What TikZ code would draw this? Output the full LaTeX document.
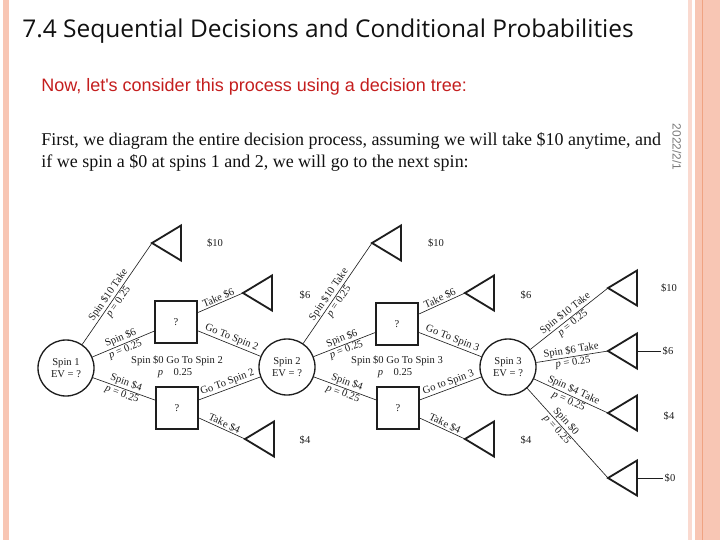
\documentclass[tikz,border=0pt]{standalone}
\usepackage{fontspec}
\setmainfont{Liberation Serif}
\newfontfamily\TitleFont{Open Sans}
\newfontfamily\LeadFont{Liberation Sans}
\usetikzlibrary{positioning,calc}
\definecolor{SlideInk}{HTML}{111111}
\definecolor{SlideRed}{HTML}{C41E1E}
\definecolor{SlideStrip}{HTML}{F8C6B4}
\definecolor{SlideStripPale}{HTML}{FADAD0}
\definecolor{SlideStripDeep}{HTML}{F0A382}
\definecolor{SlideDate}{HTML}{7A7A7A}
\definecolor{TreeInk}{HTML}{1E1E1E}
\tikzset{
  slide title/.style={font=\TitleFont\fontsize{17.4}{20}\selectfont, text=SlideInk, inner sep=0pt},
  slide lead/.style={font=\LeadFont\fontsize{12.8}{15}\selectfont, text=SlideRed, inner sep=0pt},
  slide body/.style={font=\fontsize{12.8}{15.6}\selectfont, text=SlideInk, inner sep=0pt},
  slide date/.style={font=\LeadFont\fontsize{8.5}{9}\selectfont, text=SlideDate, inner sep=0pt},
  tree chance/.style={circle, draw=TreeInk, line width=.95pt, minimum size=1.4cm, inner sep=0pt,
    align=center, font=\fontsize{7.5}{8.5}\selectfont, text=TreeInk},
  tree decision/.style={rectangle, draw=TreeInk, line width=1.6pt, minimum size=1.05cm, inner sep=0pt,
    font=\fontsize{7.5}{8.5}\selectfont, text=TreeInk},
  tree payoff/.style={draw=TreeInk, line width=1.3pt, line join=miter},
  tree branch/.style={draw=TreeInk, line width=.45pt},
  tree label/.style={font=\fontsize{7.5}{8.5}\selectfont, text=TreeInk, inner sep=1pt},
  tree edge label/.style={tree label, sloped, inner sep=.8pt},
}
\newcommand{\PayoffTri}[2]{%
  \coordinate (#1) at (#2);
  \draw[tree payoff] (#1) -- ++(29,-17.5) -- ++(0,35) -- cycle;
  \path (#1) ++(29,0) coordinate (#1 base);%
}

\begin{document}
\begin{tikzpicture}[x=0.025cm,y=-0.025cm]
  \useasboundingbox (0,0) rectangle (720,540);

  % slide frame
  \fill[SlideStrip] (3,0) rectangle (9,540);
  \fill[SlideStripPale] (688,0) rectangle (692,540);
  \fill[SlideStrip] (695,0) rectangle (720,540);
  \fill[SlideStripDeep] (701.5,0) rectangle (703,540);

  % heading and text
  \node[slide title, anchor=base west] (title) at (22,37)
    {7.4 Sequential Decisions and Conditional Probabilities};
  \node[slide lead, anchor=base west] (lead) at (41,91)
    {Now, let's consider this process using a decision tree:};
  \node[slide body, anchor=base west] (body1) at (41,145)
    {First, we diagram the entire decision process, assuming we will take \$10 anytime, and};
  \node[slide body, anchor=base west] (body2) at (41,167)
    {if we spin a \$0 at spins 1 and 2, we will go to the next spin:};
  \node[slide date, rotate=-90] (date) at (677,147) {2022/2/1};

  % chance nodes
  \node[tree chance] (s1) at (66,368) {Spin 1\\EV = ?};
  \node[tree chance] (s2) at (287,367) {Spin 2\\EV = ?};
  \node[tree chance] (s3) at (508,367) {Spin 3\\EV = ?};

  % decision nodes
  \node[tree decision] (d1a) at (176,322) {?};
  \node[tree decision] (d1b) at (177,408) {?};
  \node[tree decision] (d2a) at (397,324) {?};
  \node[tree decision] (d2b) at (398,408) {?};

  % payoffs
  \PayoffTri{t1}{152,243}
  \PayoffTri{t2}{243,293}
  \PayoffTri{t3}{245,439}
  \PayoffTri{t4}{372,243}
  \PayoffTri{t5}{465,293}
  \PayoffTri{t6}{465,439}
  \PayoffTri{t7}{608,288}
  \PayoffTri{t8}{608,351}
  \PayoffTri{t9}{608,413}
  \PayoffTri{t10}{608,478}
  \node[tree label] (v1) at (215,243) {\$10};
  \node[tree label] (v2) at (305,295) {\$6};
  \node[tree label] (v3) at (305,440) {\$4};
  \node[tree label] (v4) at (436,243) {\$10};
  \node[tree label] (v5) at (526,295) {\$6};
  \node[tree label] (v6) at (526,440) {\$4};
  \node[tree label] (v7) at (669,288) {\$10};
  \node[tree label] (v8) at (668,351) {\$6};
  \node[tree label] (v9) at (669,416) {\$4};
  \node[tree label] (v10) at (670,478) {\$0};
  \draw[tree branch] (t8 base) -- (v8.west);
  \draw[tree branch] (t10 base) -- (v10.west);

  % spin 1
  \draw[tree branch] (s1) -- node[tree edge label, above, pos=.45] {Spin \$10 Take}
    node[tree edge label, below, pos=.45] {\textit{p} = 0.25} (t1);
  \draw[tree branch] (s1) -- node[tree edge label, above] {Spin \$6}
    node[tree edge label, below] {\textit{p} = 0.25} (d1a);
  \draw[tree branch] (s1) -- node[tree edge label, above] {Spin \$4}
    node[tree edge label, below] {\textit{p} = 0.25} (d1b);
  \node[tree label] (z1) at (177,361) {Spin \$0 Go To Spin 2};
  \node[tree label] (z1p) at (175,373) {\textit{p}\quad 0.25};
  \draw[tree branch] (d1a) -- node[tree edge label, above] {Take \$6} (t2);
  \draw[tree branch] (d1a) -- node[tree edge label, above] {Go To Spin 2} (s2);
  \draw[tree branch] (d1b) -- node[tree edge label, above] {Go To Spin 2} (s2);
  \draw[tree branch] (d1b) -- node[tree edge label, above] {Take \$4} (t3);

  % spin 2
  \draw[tree branch] (s2) -- node[tree edge label, above, pos=.45] {Spin \$10 Take}
    node[tree edge label, below, pos=.45] {\textit{p} = 0.25} (t4);
  \draw[tree branch] (s2) -- node[tree edge label, above] {Spin \$6}
    node[tree edge label, below] {\textit{p} = 0.25} (d2a);
  \draw[tree branch] (s2) -- node[tree edge label, above] {Spin \$4}
    node[tree edge label, below] {\textit{p} = 0.25} (d2b);
  \node[tree label] (z2) at (397,361) {Spin \$0 Go To Spin 3};
  \node[tree label] (z2p) at (395,373) {\textit{p}\quad 0.25};
  \draw[tree branch] (d2a) -- node[tree edge label, above] {Take \$6} (t5);
  \draw[tree branch] (d2a) -- node[tree edge label, above] {Go To Spin 3} (s3);
  \draw[tree branch] (d2b) -- node[tree edge label, above] {Go to Spin 3} (s3);
  \draw[tree branch] (d2b) -- node[tree edge label, above] {Take \$4} (t6);

  % spin 3
  \draw[tree branch] (s3) -- node[tree edge label, above] {Spin \$10 Take}
    node[tree edge label, below] {\textit{p} = 0.25} (t7);
  \draw[tree branch] (s3) -- node[tree edge label, above] {Spin \$6 Take}
    node[tree edge label, below] {\textit{p} = 0.25} (t8);
  \draw[tree branch] (s3) -- node[tree edge label, above] {Spin \$4 Take}
    node[tree edge label, below] {\textit{p} = 0.25} (t9);
  \draw[tree branch] (s3) -- node[tree edge label, above, pos=.42] {Spin \$0}
    node[tree edge label, below, pos=.42] {\textit{p} = 0.25} (t10);
\end{tikzpicture}
\end{document}
